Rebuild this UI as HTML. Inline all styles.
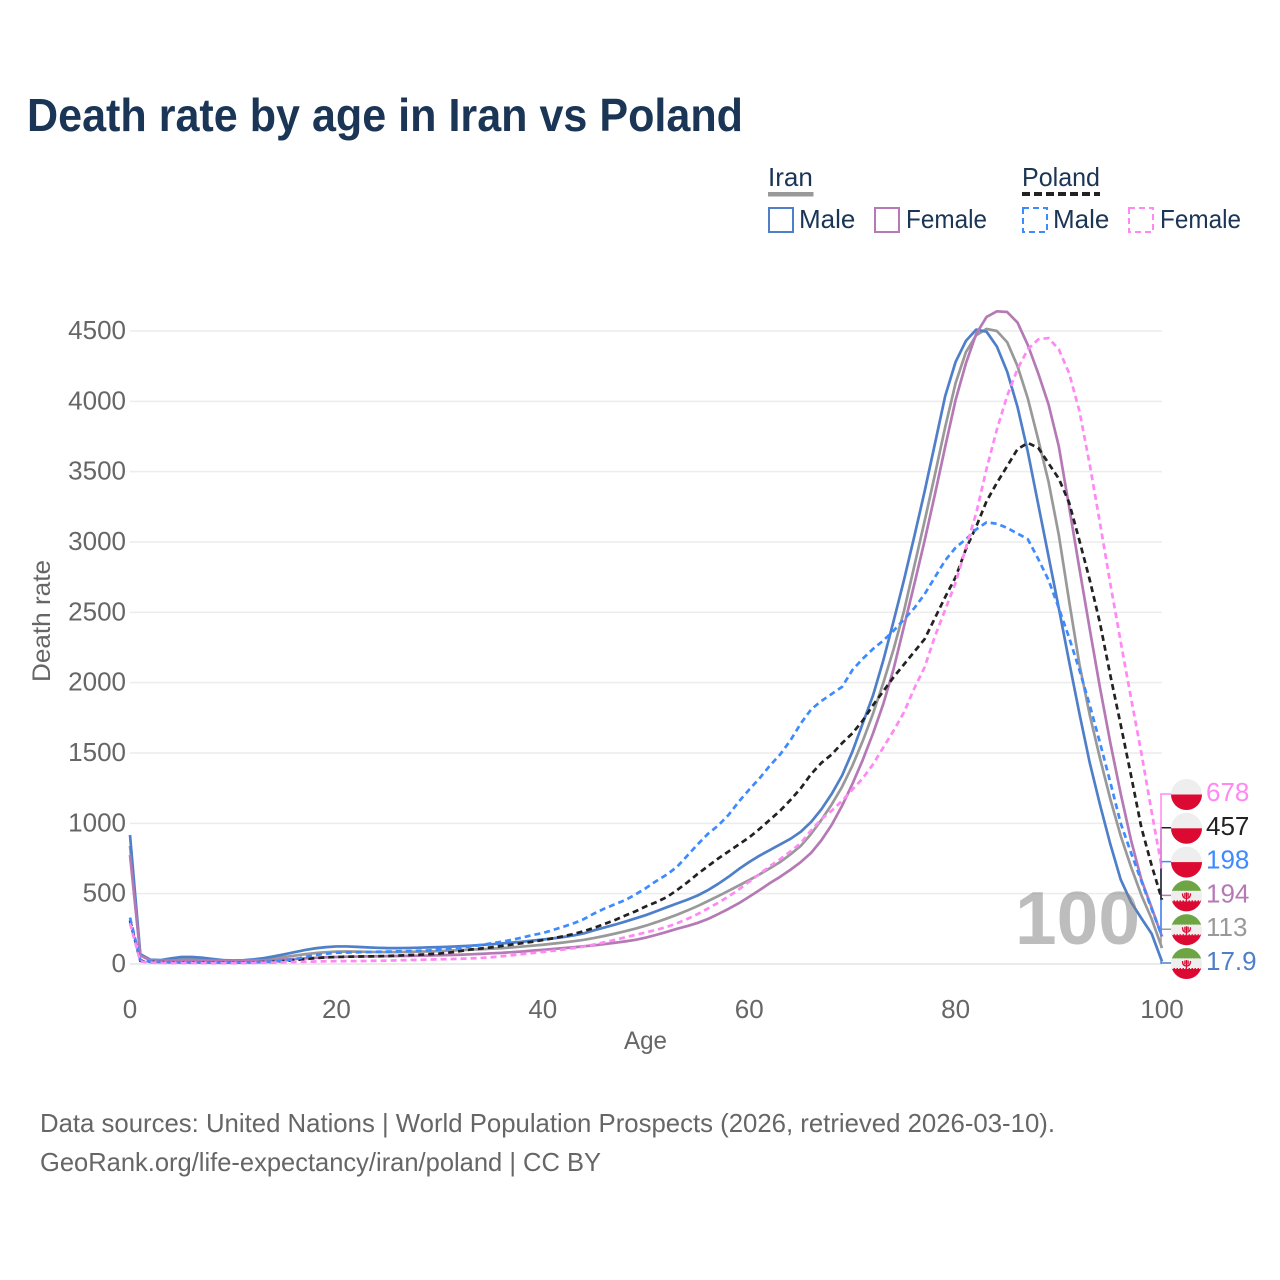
<!DOCTYPE html>
<html lang="en">
<head>
<meta charset="utf-8">
<title>Death rate by age in Iran vs Poland</title>
<style>
html,body{margin:0;padding:0;background:#fff;}
svg{display:block;font-family:"Liberation Sans",sans-serif;}
</style>
</head>
<body>
<svg id="chart" xmlns="http://www.w3.org/2000/svg" width="1280" height="1280" viewBox="0 0 1280 1280">
  <defs><clipPath id="flag-clip"><circle cx="0" cy="0" r="15.5"></circle></clipPath></defs>
  <rect x="0" y="0" width="1280" height="1280" fill="#fff"></rect>
  <text x="27" y="131" font-size="46" font-weight="700" fill="#1a3555" textLength="716" lengthAdjust="spacingAndGlyphs">Death rate by age in Iran vs Poland</text>

  <g font-size="26" fill="#1a3555">
    <text x="768" y="186">Iran</text>
    <rect x="768" y="192" width="45.5" height="4.5" fill="#999"></rect>
    <text x="1022" y="186" textLength="78" lengthAdjust="spacingAndGlyphs">Poland</text>
    <line x1="1022" y1="194" x2="1100" y2="194" stroke="#222" stroke-width="4" stroke-dasharray="8 4"></line>

    <rect x="769" y="208" width="24" height="24" fill="none" stroke="#4f7fc9" stroke-width="2"></rect>
    <text x="799" y="228">Male</text>
    <rect x="875" y="208" width="24" height="24" fill="none" stroke="#b57ab5" stroke-width="2"></rect>
    <text x="906" y="228" textLength="81" lengthAdjust="spacingAndGlyphs">Female</text>
    <rect x="1023" y="208" width="24" height="24" fill="none" stroke="#3d8bff" stroke-width="2" stroke-dasharray="6 4"></rect>
    <text x="1053" y="228">Male</text>
    <rect x="1129" y="208" width="24" height="24" fill="none" stroke="#ff88f4" stroke-width="2" stroke-dasharray="6 4"></rect>
    <text x="1160" y="228" textLength="81" lengthAdjust="spacingAndGlyphs">Female</text>
  </g>

  <g id="grid"></g>
  <g id="y-ticks"></g>
  <g id="x-ticks"></g>
  <text x="645.5" y="1049" font-size="25" fill="#666" text-anchor="middle" textLength="43" lengthAdjust="spacingAndGlyphs">Age</text>
  <text transform="translate(50,621) rotate(-90)" font-size="25" fill="#666" text-anchor="middle" textLength="122" lengthAdjust="spacingAndGlyphs">Death rate</text>

  <g id="series"></g>
  <g id="end-labels"></g>

  <text id="watermark" x="1015" y="944" font-size="75" font-weight="700" fill="#808080" fill-opacity="0.52" textLength="125" lengthAdjust="spacingAndGlyphs">100</text>

  <text x="40" y="1132" font-size="26" fill="#666" textLength="1015" lengthAdjust="spacingAndGlyphs">Data sources: United Nations | World Population Prospects (2026, retrieved 2026-03-10).</text>
  <text x="40" y="1171" font-size="26" fill="#666" textLength="561" lengthAdjust="spacingAndGlyphs">GeoRank.org/life-expectancy/iran/poland | CC BY</text>
</svg>

<script>
const yTickValues = [0, 500, 1000, 1500, 2000, 2500, 3000, 3500, 4000, 4500];
const xTickValues = [0, 20, 40, 60, 80, 100];
const watermarkAge = 100;

const iranMale = [917,70,30,28,40,50,50,45,36,28,25,27,33,42,55,70,85,100,112,120,125,125,122,118,115,113,113,114,116,118,120,123,126,130,135,140,146,152,158,166,174,182,192,203,218,240,260,280,302,325,348,375,403,430,457,487,525,570,620,675,725,770,810,850,890,940,1010,1100,1210,1340,1510,1710,1910,2160,2440,2730,3040,3360,3700,4040,4280,4430,4510,4495,4390,4210,3960,3640,3270,2900,2530,2150,1780,1430,1130,850,600,440,325,215,17.9];
const iranBoth = [840,65,28,26,30,35,36,34,30,26,24,25,28,33,40,50,60,70,78,84,88,89,88,86,85,85,85,86,88,90,92,95,98,102,105,109,113,118,124,130,137,145,153,162,172,185,200,216,233,252,273,297,323,350,380,412,447,483,520,558,597,637,680,725,780,840,925,1025,1135,1260,1410,1585,1780,2000,2240,2510,2830,3150,3480,3820,4130,4350,4470,4515,4500,4420,4250,4020,3730,3430,3050,2580,2130,1770,1460,1170,910,690,490,320,113];
const iranFemale = [775,60,25,24,24,25,25,25,24,23,22,23,24,26,28,32,36,40,44,48,50,52,53,54,55,56,57,58,59,60,62,64,66,69,72,76,79,84,89,95,101,107,113,119,126,133,142,151,161,172,188,207,228,250,270,292,320,355,392,432,478,525,575,620,670,725,790,880,990,1125,1280,1450,1640,1850,2100,2400,2700,3010,3340,3680,4010,4270,4480,4600,4640,4635,4560,4400,4200,3980,3680,3250,2810,2380,1960,1570,1210,880,600,400,194];
const polandBoth = [310,22,15,13,12,11,11,11,10,10,10,11,12,14,17,22,28,35,42,47,50,52,53,54,55,57,60,63,66,70,74,82,92,103,110,118,128,138,148,158,170,183,197,214,234,258,285,313,345,375,410,440,475,525,580,640,695,750,800,850,900,960,1025,1090,1166,1250,1350,1430,1490,1570,1640,1730,1840,1940,2040,2130,2220,2310,2460,2610,2750,2950,3110,3290,3420,3540,3660,3704,3670,3560,3450,3280,3010,2730,2420,2050,1700,1340,970,700,457];
const polandMale = [330,28,16,13,12,12,11,11,10,10,10,11,12,14,18,25,35,50,65,73,80,82,83,85,87,88,90,92,94,97,103,108,115,125,135,147,158,172,188,206,220,242,265,290,320,360,395,425,455,495,540,590,635,690,770,850,925,985,1060,1155,1240,1320,1410,1490,1590,1710,1810,1870,1920,1970,2090,2170,2240,2300,2370,2450,2530,2630,2750,2870,2960,3020,3090,3140,3130,3100,3060,3020,2880,2730,2530,2320,2090,1840,1570,1290,1000,790,590,390,198];
const polandFemale = [290,18,10,8,7,7,7,6,6,6,6,7,8,9,10,12,14,16,18,19,20,21,21,22,23,24,26,28,30,32,33,35,37,40,43,48,55,62,70,78,86,94,103,113,124,139,155,172,190,207,225,243,263,290,320,355,395,435,480,530,585,640,695,745,800,860,950,1030,1090,1160,1240,1320,1420,1540,1660,1790,1960,2110,2330,2520,2710,2960,3206,3520,3800,4040,4230,4370,4440,4450,4370,4200,3930,3550,3130,2700,2290,1890,1500,1080,678];

const seriesList = [
  {key: 'iran-both', country: 'iran', values: iranBoth, label: '113', color: '#999999', dash: ''},
  {key: 'iran-male', country: 'iran', values: iranMale, label: '17.9', color: '#4f7fc9', dash: ''},
  {key: 'iran-female', country: 'iran', values: iranFemale, label: '194', color: '#b57ab5', dash: ''},
  {key: 'poland-both', country: 'poland', values: polandBoth, label: '457', color: '#222222', dash: '6 4'},
  {key: 'poland-male', country: 'poland', values: polandMale, label: '198', color: '#3d8bff', dash: '6 4'},
  {key: 'poland-female', country: 'poland', values: polandFemale, label: '678', color: '#ff88f4', dash: '6 4'}
];

const NS = 'http://www.w3.org/2000/svg';
const plot = {left: 130, right: 1162, top: 331, bottom: 964, xMax: 100, yMax: 4500};
function xScale(age) { return plot.left + (age / plot.xMax) * (plot.right - plot.left); }
function yScale(v) { return plot.bottom - (v / plot.yMax) * (plot.bottom - plot.top); }
function make(tag, attrs, parent) {
  const el = document.createElementNS(NS, tag);
  for (const k in attrs) el.setAttribute(k, attrs[k]);
  parent.appendChild(el);
  return el;
}

const gridG = document.getElementById('grid');
const yG = document.getElementById('y-ticks');
yTickValues.forEach(function (t) {
  const line = make('line', {x1: plot.left, x2: plot.right, y1: yScale(t), y2: yScale(t), stroke: t === 0 ? '#e4e4e4' : '#ececec', 'stroke-width': 1.5}, gridG);
  
  
  const label = make('text', {x: 126, y: yScale(t) + 8, 'font-size': 26, fill: '#666', 'text-anchor': 'end'}, yG);
  
  
  label.textContent = t;
});

const xG = document.getElementById('x-ticks');
xTickValues.forEach(function (t) {
  const label = make('text', {x: xScale(t), y: 1018, 'font-size': 26, fill: '#666', 'text-anchor': 'middle'}, xG);
  
  
  label.textContent = t;
});

const seriesG = document.getElementById('series');
seriesList.forEach(function (s) {
  const d = s.values.map(function (v, i) {
    return (i ? 'L' : 'M') + xScale(i * plot.xMax / (s.values.length - 1)).toFixed(2) + ' ' + yScale(v).toFixed(2);
  }).join('');
  const path = make('path', {d: d, fill: 'none', stroke: s.color, 'stroke-width': 2.7, 'stroke-linejoin': 'round'}, seriesG);
  if (s.dash) path.setAttribute('stroke-dasharray', s.dash);
  
  
});

function drawFlag(parent, country, cx, cy) {
  const g = make('g', {transform: 'translate(' + cx + ' ' + cy + ')'}, parent);
  
  
  const inner = make('g', {'clip-path': 'url(#flag-clip)'}, g);
  make('rect', {x: -16, y: -16, width: 32, height: 32, fill: '#eeeeee'}, inner);
  if (country === 'poland') {
    make('rect', {x: -16, y: 0, width: 32, height: 16, fill: '#dc0a32'}, inner);
  } else {
    make('rect', {x: -16, y: -16, width: 32, height: 11, fill: '#6da544'}, inner);
    make('rect', {x: -16, y: 5.5, width: 32, height: 11, fill: '#dc0a32'}, inner);
    make('line', {x1: -16, x2: 16, y1: -4.6, y2: -4.6, stroke: '#eeeeee', 'stroke-width': 1.2, 'stroke-dasharray': '1.5 1.5'}, inner);
    make('line', {x1: -16, x2: 16, y1: 5.1, y2: 5.1, stroke: '#dc0a32', 'stroke-width': 1.2, 'stroke-dasharray': '1.5 1.5'}, inner);
    make('path', {d: 'M-4-2.5C-4 1.5-2 2.5 0 2.5S4 1.5 4-2.5M-1.6-3V1M1.6-3V1M0-3.5V4.5', fill: 'none', stroke: '#dc0a32', 'stroke-width': 1.3}, inner);
  }
}

const labelG = document.getElementById('end-labels');
const bottomLabelY = 963;
const labelStep = 33.8;
seriesList.slice().sort(function (a, b) {
  return a.values[a.values.length - 1] - b.values[b.values.length - 1];
}).forEach(function (s, i) {
  const ly = bottomLabelY - i * labelStep;
  const endVal = s.values[s.values.length - 1];
  const conn = make('path', {d: 'M' + (plot.right - 1) + ' ' + yScale(endVal).toFixed(2) + 'V' + ly + 'H1173', fill: 'none', stroke: s.color, 'stroke-width': 1.5}, labelG);
  
  
  drawFlag(labelG, s.country, 1186.5, ly + 0.5);
  const text = make('text', {x: 1206, y: ly + 7, 'font-size': 26, fill: s.color}, labelG);
  
  
  text.textContent = s.label;
});

document.getElementById('watermark').textContent = watermarkAge;
</script>
</body>
</html>
